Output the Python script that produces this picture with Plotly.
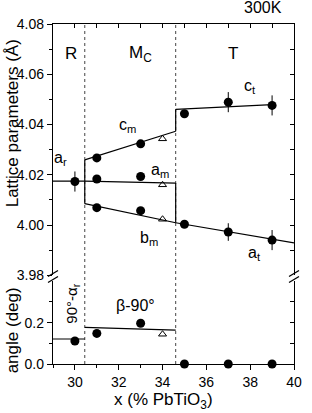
import plotly.graph_objects as go

# ---------------- data ----------------
# upper panel: lattice parameters (Angstrom)
x_r = [30]
a_r = [4.0173]
a_r_err = [0.004]

x_m = [31, 33]
c_m = [4.0267, 4.0323]
a_m = [4.0183, 4.0193]
b_m = [4.0069, 4.0057]

x_tri = [34, 34, 34]
tri_lat = [4.0343, 4.0160, 4.0023]

x_t = [35, 37, 39]
c_t = [4.0443, 4.0489, 4.0476]
c_t_err = [0.0, 0.004, 0.004]
a_t = [4.0003, 3.9972, 3.9940]
a_t_err = [0.0, 0.0035, 0.004]

# lower panel: angles (deg)
alpha_r = [0.111]
beta_m = [0.148, 0.197]
beta_tri_x = [34]
beta_tri = [0.144]
ang_t = [0.0, 0.0, 0.0]

# phase boundaries
boundaries = [30.45, 34.6]

# fitted lines (x, y pairs)
fit_ar_x, fit_ar_y = [29, 30.45], [4.0175, 4.0175]
fit_am_x, fit_am_y = [30.45, 34.6], [4.0175, 4.0167]
fit_cm_x, fit_cm_y = [30.45, 34.6], [4.0259, 4.0373]
fit_bm_x, fit_bm_y = [30.45, 34.6], [4.0085, 4.0009]
fit_v1_x, fit_v1_y = [30.45, 30.45], [4.0085, 4.0259]
fit_v2_x, fit_v2_y = [34.6, 34.6], [4.0009, 4.0167]
fit_v3_x, fit_v3_y = [34.6, 34.6], [4.0373, 4.0460]
fit_ct_x, fit_ct_y = [34.6, 39], [4.0460, 4.0479]
fit_at_x, fit_at_y = [34.6, 40], [4.0009, 3.9929]
fit_al_x, fit_al_y = [29, 30.45], [0.121, 0.121]
fit_be_x, fit_be_y = [30.45, 34.6], [0.177, 0.164]

x_range = [29, 40]
lat_range = [3.98, 4.08]
ang_range = [0, 0.4]

# ---------------- figure ----------------
FONT = "Liberation Sans, Arial, Helvetica, sans-serif"
BLACK = "black"
fig = go.Figure()

def line(xs, ys, yax="y"):
    fig.add_trace(go.Scatter(x=xs, y=ys, mode="lines", xaxis="x", yaxis=yax,
                             line=dict(color=BLACK, width=1.2), hoverinfo="skip",
                             showlegend=False))

for xs, ys in [(fit_ar_x, fit_ar_y), (fit_am_x, fit_am_y), (fit_cm_x, fit_cm_y),
               (fit_bm_x, fit_bm_y), (fit_v1_x, fit_v1_y), (fit_v2_x, fit_v2_y),
               (fit_v3_x, fit_v3_y), (fit_ct_x, fit_ct_y), (fit_at_x, fit_at_y)]:
    line(xs, ys, "y")
for xs, ys in [(fit_al_x, fit_al_y), (fit_be_x, fit_be_y)]:
    line(xs, ys, "y2")

circ = dict(symbol="circle", size=9, color=BLACK)
tri = dict(symbol="triangle-up-open", size=7, color=BLACK, line=dict(width=1))

def pts(xs, ys, yax="y", err=None, marker=circ):
    kw = {}
    if err is not None:
        kw["error_y"] = dict(type="data", array=err, width=0, thickness=1, color=BLACK)
    fig.add_trace(go.Scatter(x=xs, y=ys, mode="markers", xaxis="x", yaxis=yax,
                             marker=marker, cliponaxis=False, showlegend=False, **kw))

pts(x_r, a_r, err=a_r_err)
pts(x_m, c_m)
pts(x_m, a_m)
pts(x_m, b_m)
pts(x_tri, tri_lat, marker=tri)
pts(x_t, c_t, err=c_t_err)
pts(x_t, a_t, err=a_t_err)
pts(x_r, alpha_r, "y2")
pts(x_m, beta_m, "y2")
pts(beta_tri_x, beta_tri, "y2", marker=tri)
pts(x_t, ang_t, "y2")

# dummy traces for mirror axes
fig.add_trace(go.Scatter(x=[None], y=[None], xaxis="x2", yaxis="y", showlegend=False))
fig.add_trace(go.Scatter(x=[None], y=[None], xaxis="x", yaxis="y3", showlegend=False))
fig.add_trace(go.Scatter(x=[None], y=[None], xaxis="x", yaxis="y4", showlegend=False))

# geometry
L, R, T, B = 53, 10, 24, 49
ph = 413 - T - B  # 340
pw = 312 - L - R
up_bot = (364 - 275.25) / ph
lo_top = (364 - 281.3) / ph

axcommon = dict(showline=True, linecolor=BLACK, linewidth=1.3, showgrid=False,
                zeroline=False, tickcolor=BLACK, tickwidth=1,
                tickfont=dict(family=FONT, size=14, color=BLACK))

fig.update_layout(
    width=312, height=413,
    margin=dict(l=L, r=R, t=T, b=B),
    paper_bgcolor="white", plot_bgcolor="white",
    showlegend=False,
    font=dict(family=FONT, color=BLACK),
    xaxis=dict(range=x_range, domain=[0, 1], anchor="y2", ticks="outside",
               ticklen=5, dtick=2, tick0=30,
               minor=dict(ticks="outside", ticklen=3, dtick=1, tick0=29,
                          tickcolor=BLACK), **axcommon),
    xaxis2=dict(range=x_range, overlaying="x", anchor="y", side="top",
                ticks="inside", ticklen=4, dtick=1, tick0=29,
                showticklabels=False, **axcommon),
    yaxis=dict(range=lat_range, domain=[up_bot, 1], anchor="x", ticks="outside",
               ticklen=5, dtick=0.02, tick0=3.98, tickformat=".2f",
               minor=dict(ticks="outside", ticklen=3, dtick=0.01, tick0=3.98,
                          tickcolor=BLACK), **axcommon),
    yaxis3=dict(range=lat_range, overlaying="y", anchor="x", side="right",
                ticks="inside", ticklen=4, dtick=0.01, tick0=3.98,
                showticklabels=False, **axcommon),
    yaxis2=dict(range=ang_range, domain=[0, lo_top], anchor="x", ticks="outside",
                ticklen=5, tickvals=[0, 0.2], tickformat=".1f",
                minor=dict(ticks="outside", ticklen=3, tickvals=[0.1, 0.3],
                           tickcolor=BLACK), **axcommon),
    yaxis4=dict(range=ang_range, overlaying="y2", anchor="x", side="right",
                ticks="inside", ticklen=4, tickvals=[0.1, 0.2, 0.3],
                showticklabels=False, **axcommon),
)

# dotted phase boundaries
for b in boundaries:
    fig.add_shape(type="line", xref="x", yref="paper", x0=b, x1=b, y0=0, y1=1,
                  line=dict(color="#444", width=1, dash="dot"), layer="below")

# axis break marks
for xp in [0, 1]:
    for yp in [273.5, 279.5]:
        yc = (364 - yp) / ph
        fig.add_shape(type="line", xref="paper", yref="paper",
                      xsizemode="pixel", ysizemode="pixel",
                      xanchor=xp, yanchor=yc, x0=-5, x1=5, y0=-3, y1=3,
                      line=dict(color=BLACK, width=1.3))

def ann(text, x, y, size=16, yref="y", **kw):
    fig.add_annotation(text=text, x=x, y=y, xref="x", yref=yref, showarrow=False,
                       xanchor="center", yanchor="middle",
                       font=dict(family=FONT, size=size, color=BLACK), **kw)

ann("R", 29.8, 4.0684, 17)
ann("M<sub>C</sub>", 33.0, 4.0680, 17)
ann("T", 37.2, 4.0684, 17)
ann("a<sub>r</sub>", 29.35, 4.0265)
ann("c<sub>m</sub>", 32.4, 4.0395)
ann("a<sub>m</sub>", 33.9, 4.0215)
ann("b<sub>m</sub>", 33.4, 3.9945)
ann("c<sub>t</sub>", 38.0, 4.0550)
ann("a<sub>t</sub>", 38.2, 3.9885)
ann("β-90°", 32.75, 0.285, yref="y2")
ann("90°-α<sub>r</sub>", 29.85, 0.29, 15, yref="y2", textangle=-90)

def pann(text, px, py, size=16, angle=0):
    fig.add_annotation(text=text, xref="paper", yref="paper",
                       x=(px - L) / pw, y=(364 - py) / ph,
                       xanchor="center", yanchor="middle", textangle=angle,
                       showarrow=False, font=dict(family=FONT, size=size, color=BLACK))

pann("300K", 270, 8, 16)
pann("Lattice parameters (Å)", 12, 123, 17, -90)
pann("angle (deg)", 11, 330, 17, -90)
pann("x (% PbTiO<sub>3</sub>)", 167, 401, 17)

fig.write_html("out.html")
